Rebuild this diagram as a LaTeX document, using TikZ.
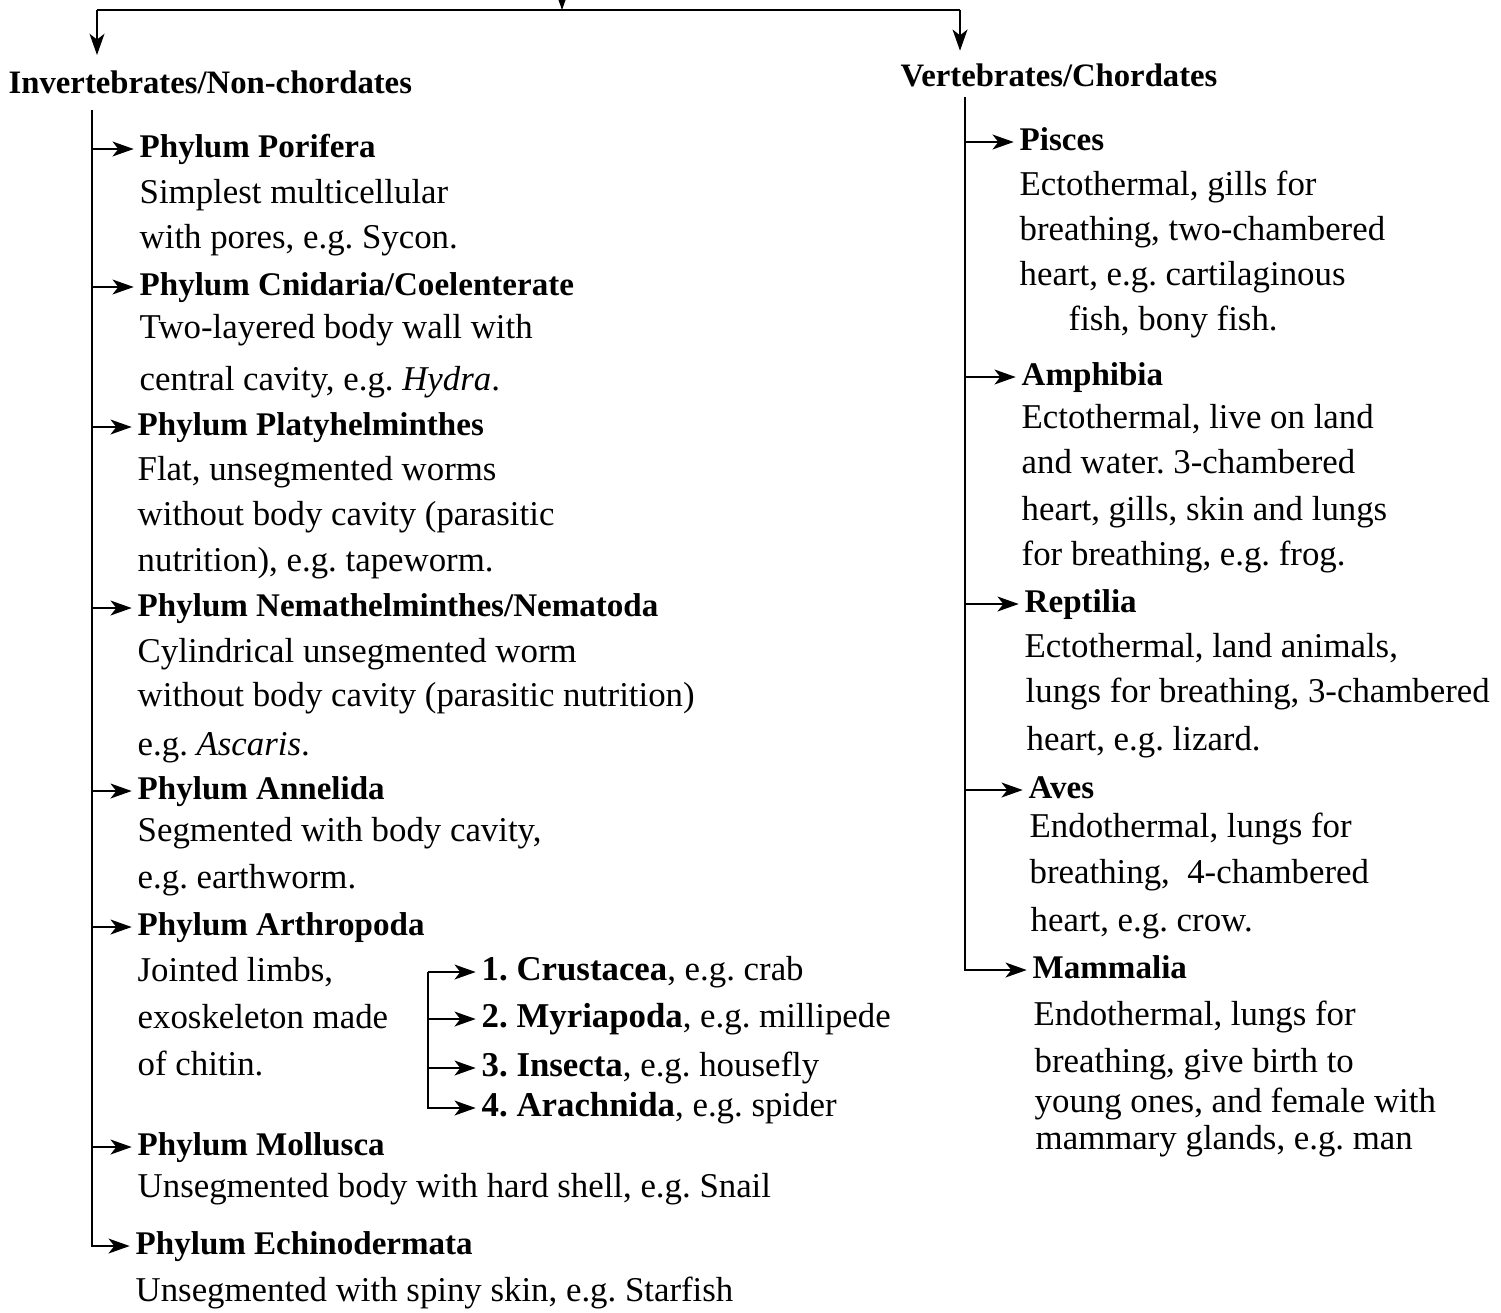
\documentclass[tikz,border=0pt]{standalone}
\usepackage{fontspec}
\setmainfont{Liberation Serif}
\usetikzlibrary{arrows.meta, positioning}
\frenchspacing

\begin{document}
\begin{tikzpicture}[
  x=0.01cm, y=-0.01cm,
  filo/.style={draw=black, line width=0.7pt},
  freccia/.style={filo, -{Stealth[length=6pt, width=4.2pt, inset=1.6pt]}, shorten >=1.5pt},
  titolo/.style={anchor=west, inner sep=0pt, font=\fontsize{9.3}{11}\selectfont\bfseries},
  voce/.style={anchor=west, inner sep=0pt, text height=7pt, text depth=2pt, font=\fontsize{9.4}{11}\selectfont\bfseries},
  riga/.style={anchor=west, inner sep=0pt, text height=7pt, text depth=2pt, font=\fontsize{9.9}{12}\selectfont}
]
\useasboundingbox (0,0) rectangle (1501,1312);

% Titoli
\node[titolo] (inv) at (8,82) {Invertebrates/Non-chordates};
\node[titolo] (ver) at (900,75) {Vertebrates/Chordates};

% Linea di partenza
\coordinate (cima) at (562,-12);
\coordinate (sx) at (97,10);
\coordinate (dx) at (960,10);
\draw[freccia, shorten >=0pt] (cima) -- (cima |- sx);
\draw[filo] (sx) -- (dx);
\draw[freccia, shorten >=4.2pt] (sx) -- (sx |- inv.north);
\draw[freccia, shorten >=3.4pt] (dx) -- (dx |- ver.north);

% Non-cordati
\node[voce] (por) at (139,149) {Phylum Porifera};
\node[riga] (por1) at (139,195) {Simplest multicellular};
\node[riga] (por2) at (139,240) {with pores, e.g. Sycon.};
\node[voce] (cni) at (139,287) {Phylum Cnidaria/Coelenterate};
\node[riga] (cni1) at (139,330) {Two-layered body wall with};
\node[riga] (cni2) at (139,382) {central cavity, e.g. \textit{Hydra}.};
\node[voce] (pla) at (137,427) {Phylum Platyhelminthes};
\node[riga] (pla1) at (137,472) {Flat, unsegmented worms};
\node[riga] (pla2) at (137,517) {without body cavity (parasitic};
\node[riga] (pla3) at (137,563) {nutrition), e.g. tapeworm.};
\node[voce] (nem) at (137,608) {Phylum Nemathelminthes/Nematoda};
\node[riga] (nem1) at (137,654) {Cylindrical unsegmented worm};
\node[riga] (nem2) at (137,698) {without body cavity (parasitic nutrition)};
\node[riga] (nem3) at (137,747) {e.g. \textit{Ascaris}.};
\node[voce] (ann) at (137,791) {Phylum Annelida};
\node[riga] (ann1) at (137,833) {Segmented with body cavity,};
\node[riga] (ann2) at (137,880) {e.g. earthworm.};
\node[voce] (art) at (137,927) {Phylum Arthropoda};
\node[riga] (art1) at (137,973) {Jointed limbs,};
\node[riga] (art2) at (137,1020) {exoskeleton made};
\node[riga] (art3) at (137,1067) {of chitin.};
\node[voce] (mol) at (137,1147) {Phylum Mollusca};
\node[riga] (mol1) at (137,1189) {Unsegmented body with hard shell, e.g. Snail};
\node[voce] (ech) at (135,1246) {Phylum Echinodermata};
\node[riga] (ech1) at (135,1293) {Unsegmented with spiny skin, e.g. Starfish};

\coordinate (tl) at (92,110);
\draw[freccia] (tl) |- (ech);
\foreach \n in {por, cni, pla, nem, ann, art, mol}
  \draw[freccia] (tl |- \n) -- (\n);

% Artropodi
\node[riga] (cru) at (481,972) {\textbf{1. Crustacea}, e.g. crab};
\node[riga] (myr) at (481,1019) {\textbf{2. Myriapoda}, e.g. millipede};
\node[riga] (ins) at (481,1068) {\textbf{3. Insecta}, e.g. housefly};
\node[riga] (ara) at (481,1108) {\textbf{4. Arachnida}, e.g. spider};

\coordinate (ramo) at (428,970);
\draw[freccia] (ramo |- cru) |- (ara);
\foreach \n in {cru, myr, ins}
  \draw[freccia] (ramo |- \n) -- (\n);

% Cordati
\node[voce] (pis) at (1019,142) {Pisces};
\node[riga] (pis1) at (1019,187) {Ectothermal, gills for};
\node[riga] (pis2) at (1019,232) {breathing, two-chambered};
\node[riga] (pis3) at (1019,277) {heart, e.g. cartilaginous};
\node[riga] (pis4) at (1068,322) {fish, bony fish.};
\node[voce] (amp) at (1021,377) {Amphibia};
\node[riga] (amp1) at (1021,420) {Ectothermal, live on land};
\node[riga] (amp2) at (1021,465) {and water. 3-chambered};
\node[riga] (amp3) at (1021,512) {heart, gills, skin and lungs};
\node[riga] (amp4) at (1021,557) {for breathing, e.g. frog.};
\node[voce] (rep) at (1024,604) {Reptilia};
\node[riga] (rep1) at (1024,649) {Ectothermal, land animals,};
\node[riga] (rep2) at (1025,694) {lungs for breathing, 3-chambered};
\node[riga] (rep3) at (1026,742) {heart, e.g. lizard.};
\node[voce] (ave) at (1028,790) {Aves};
\node[riga] (ave1) at (1029,829) {Endothermal, lungs for};
\node[riga] (ave2) at (1029,875) {breathing,\ \ 4-chambered};
\node[riga] (ave3) at (1030,923) {heart, e.g. crow.};
\node[voce] (mam) at (1032,970) {Mammalia};
\node[riga] (mam1) at (1033,1017) {Endothermal, lungs for};
\node[riga] (mam2) at (1034,1064) {breathing, give birth to};
\node[riga] (mam3) at (1034,1104) {young ones, and female with};
\node[riga] (mam4) at (1035,1141) {mammary glands, e.g. man};

\coordinate (tr) at (965,97);
\draw[freccia] (tr) |- (mam);
\foreach \n in {pis, amp, rep, ave}
  \draw[freccia] (tr |- \n) -- (\n);

\end{tikzpicture}
\end{document}
